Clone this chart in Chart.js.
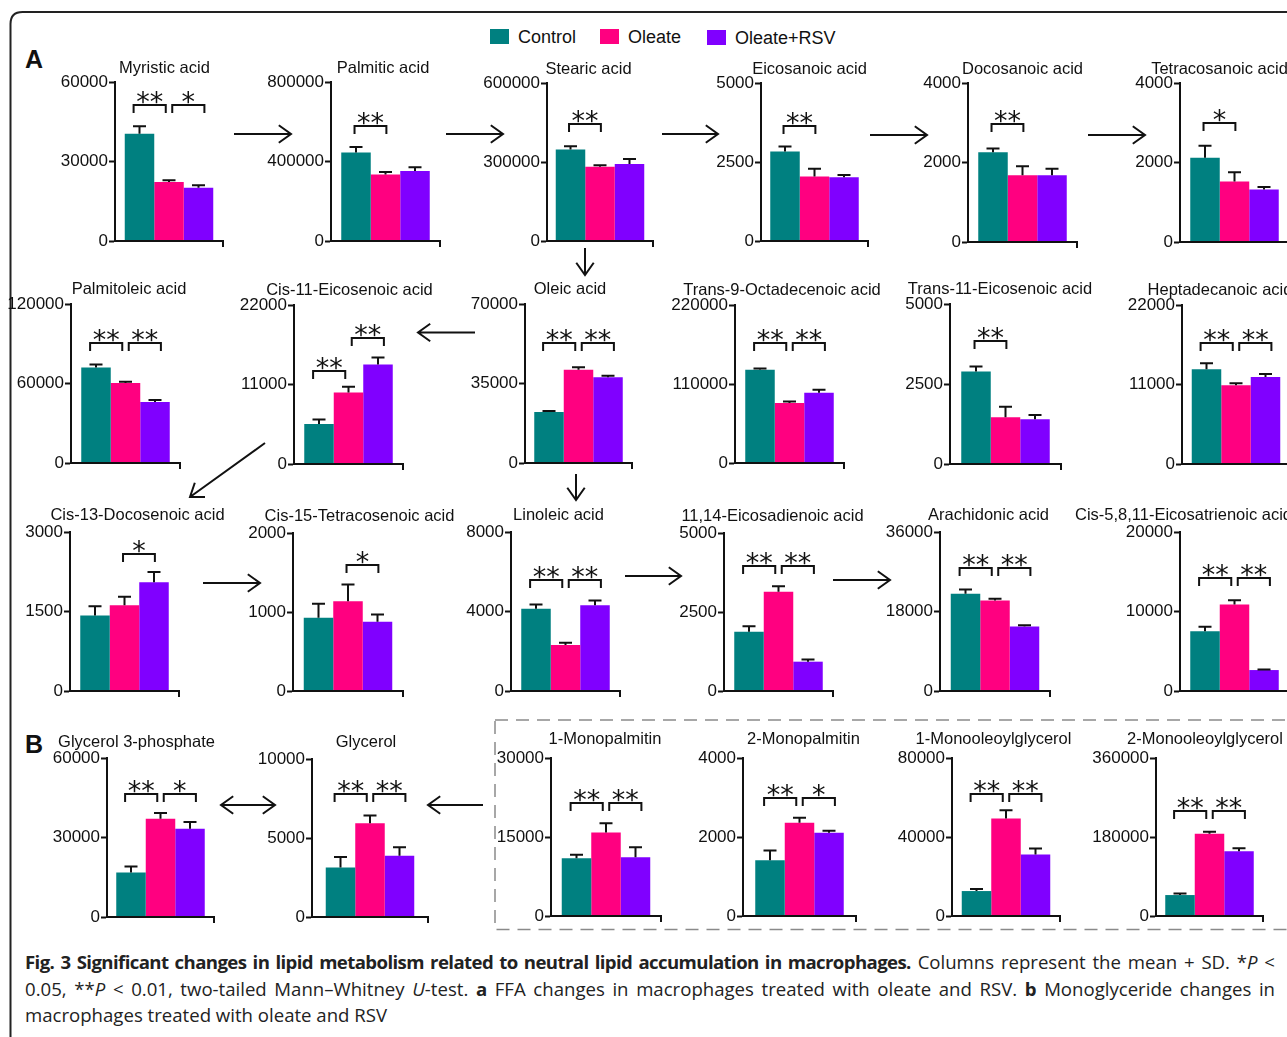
<!DOCTYPE html>
<html>
<head>
<meta charset="utf-8">
<script src="https://cdn.jsdelivr.net/npm/chart.js@4.4.1/dist/chart.umd.min.js"></script>
<style>
  html, body { margin: 0; padding: 0; background: #fff; }
  body { width: 1287px; height: 1037px; overflow: hidden; position: relative;
         font-family: "Liberation Sans", Arial, sans-serif; color: #111; }
  #deco { position: absolute; left: 0; top: 0; }
  .panel { position: absolute; }
  .letter { position: absolute; font-weight: bold; font-size: 25px; line-height: 25px; }
  .key { position: absolute; font-size: 18px; line-height: 22px; white-space: nowrap; }
  .swatch { position: absolute; width: 19px; height: 15px; }
  .caption { position: absolute; left: 25px; top: 949px; width: 1250px;
             font-family: "Open Sans", sans-serif; font-size: 18.6px; line-height: 26.5px; color: #222; }
  .caption div { white-space: nowrap; text-align: justify; text-align-last: justify; }
  .caption div.last { text-align: left; text-align-last: left; }
  .caption b { font-weight: 700; }
  .caption b.lead { letter-spacing: -0.6px; }
</style>
</head>
<body>
<svg id="deco" width="1287" height="1037"></svg>

<div class="letter" style="left:25px;top:47px;">A</div>
<div class="letter" style="left:25px;top:732px;">B</div>

<div class="swatch" style="left:490px;top:29px;background:#008080;"></div>
<div class="key" style="left:518px;top:26px;">Control</div>
<div class="swatch" style="left:600px;top:29px;background:#ff0080;"></div>
<div class="key" style="left:628px;top:26px;">Oleate</div>
<div class="swatch" style="left:707px;top:30px;background:#8000ff;"></div>
<div class="key" style="left:735px;top:27px;">Oleate+RSV</div>

<div class="caption">
  <div><b class="lead">Fig. 3 Significant changes in lipid metabolism related to neutral lipid accumulation in macrophages.</b> Columns represent the mean + SD. *<i>P</i> &lt;</div>
  <div>0.05, **<i>P</i> &lt; 0.01, two-tailed Mann–Whitney <i>U</i>-test. <b>a</b> FFA changes in macrophages treated with oleate and RSV. <b>b</b> Monoglyceride changes in</div>
  <div class="last">macrophages treated with oleate and RSV</div>
</div>

<script>
// ---- data ----
const groups = ['Control', 'Oleate', 'Oleate+RSV'];

const panelTitles = [
  'Myristic acid', 'Palmitic acid', 'Stearic acid', 'Eicosanoic acid', 'Docosanoic acid', 'Tetracosanoic acid',
  'Palmitoleic acid', 'Cis-11-Eicosenoic acid', 'Oleic acid', 'Trans-9-Octadecenoic acid', 'Trans-11-Eicosenoic acid', 'Heptadecanoic acid',
  'Cis-13-Docosenoic acid', 'Cis-15-Tetracosenoic acid', 'Linoleic acid', '11,14-Eicosadienoic acid', 'Arachidonic acid', 'Cis-5,8,11-Eicosatrienoic acid',
  'Glycerol 3-phosphate', 'Glycerol', '1-Monopalmitin', '2-Monopalmitin', '1-Monooleoylglycerol', '2-Monooleoylglycerol'
];

const axisMax = [
  60000, 800000, 600000, 5000, 4000, 4000,
  120000, 22000, 70000, 220000, 5000, 22000,
  3000, 2000, 8000, 5000, 36000, 20000,
  60000, 10000, 30000, 4000, 80000, 360000
];

const controlMean = [
  40500, 445000, 347000, 2830, 2260, 2120,
  72100, 5550, 22450, 129700, 2890, 13100,
  1425, 927, 4135, 1875, 22000, 7530,
  16830, 3133, 10980, 1414, 12630, 47730
];
const controlSD = [
  2800, 28000, 13000, 160, 95, 300,
  2300, 600, 450, 1800, 160, 830,
  175, 177, 215, 177, 970, 550,
  2270, 657, 630, 245, 1010, 3800
];
const oleateMean = [
  22300, 335000, 282000, 2040, 1680, 1520,
  60400, 9890, 41100, 83400, 1460, 10900,
  1620, 1137, 2310, 3138, 20480, 10880,
  37090, 5938, 15850, 2358, 49370, 187270
];
const oleateSD = [
  600, 12000, 6000, 245, 225, 235,
  1000, 790, 1000, 2200, 330, 280,
  157, 210, 120, 176, 390, 540,
  2160, 480, 1780, 127, 4200, 4530
];
const rsvMean = [
  20100, 352000, 292000, 2020, 1680, 1320,
  46000, 13780, 37700, 97700, 1400, 12040,
  2050, 876, 4316, 928, 14610, 2635,
  33320, 3872, 11170, 2106, 31180, 147700
];
const rsvSD = [
  900, 19000, 19000, 65, 160, 65,
  1500, 970, 750, 4200, 135, 410,
  196, 92, 235, 72, 300, 85,
  2530, 550, 1900, 50, 3030, 6800
];

// significance brackets: [pair (0: Control vs Oleate, 1: Oleate vs Oleate+RSV), bracket level, mark]
const significance = [
  [[0, 51200, '**'], [1, 51200, '*']],
  [[0, 577000, '**']],
  [[0, 443000, '**']],
  [[0, 3650, '**']],
  [[0, 2960, '**']],
  [[0, 3000, '*']],
  [[0, 90600, '**'], [1, 90600, '**']],
  [[0, 12850, '**'], [1, 17480, '**']],
  [[0, 52800, '**'], [1, 52800, '**']],
  [[0, 167600, '**'], [1, 167600, '**']],
  [[0, 3830, '**']],
  [[0, 16700, '**'], [1, 16700, '**']],
  [[1, 2590, '*']],
  [[1, 1590, '*']],
  [[0, 5570, '**'], [1, 5570, '**']],
  [[0, 3950, '**'], [1, 3950, '**']],
  [[0, 27870, '**'], [1, 27870, '**']],
  [[0, 14230, '**'], [1, 14230, '**']],
  [[0, 46500, '**'], [1, 46500, '*']],
  [[0, 7770, '**'], [1, 7770, '**']],
  [[0, 21440, '**'], [1, 21440, '**']],
  [[0, 2990, '**'], [1, 2990, '*']],
  [[0, 62000, '**'], [1, 62000, '**']],
  [[0, 238600, '**'], [1, 238600, '**']]
];

// ---- page layout ----
// plot boxes: [axis x, top y, zero y, axis length, title gap, title shift]
const plotBoxes = [
  [115, 82, 241, 108, 9, -4.5], [331, 82, 241, 109, 9, -2.5], [547, 83, 241, 106, 9, -11.5],
  [761, 83, 241, 107, 9, -5], [968, 83, 242, 109, 9, 0], [1180, 83, 242, 109, 9, -15],
  [71, 304, 463, 109, 10.5, 3.5], [294, 305, 464, 109, 10.5, 1], [525, 304, 463, 107, 10.5, -8.5],
  [735, 305, 463, 109, 10.5, -7.5], [950, 304, 464, 111, 10.5, -5.5], [1182, 305, 464, 108, 10.5, -16],
  [70, 532, 691, 109, 12, 13], [293, 533, 691, 110, 12, 11.5], [511, 532, 691, 109, 12, -7],
  [724, 533, 691, 109, 12, -6], [940, 532, 691, 110, 12, -6.5], [1180, 532, 691, 109, 12, -51],
  [107, 758, 917, 107, 11.5, -24], [312, 759, 917, 116, 12.5, -4], [551, 758, 916, 110, 14, -1],
  [743, 758, 916, 113, 14, 4], [952, 758, 916, 108, 14.5, -12.5], [1156, 758, 916, 107, 14, -4.5]
];

const barColors = ['#008080', '#ff0080', '#8000ff'];
const ink = '#111';
const fontFamily = '"Liberation Sans", Arial, sans-serif';
const means = [controlMean, oleateMean, rsvMean];
const sds = [controlSD, oleateSD, rsvSD];

// axis line, error bars, significance brackets and panel titles
const panelMarks = {
  id: 'panelMarks',
  afterDatasetsDraw(chart, args, opts) {
    const p = opts.panel;
    const ctx = chart.ctx;
    const y = chart.scales.y;
    const area = chart.chartArea;
    ctx.save();
    ctx.strokeStyle = ink;
    ctx.fillStyle = ink;
    ctx.lineWidth = 2;

    ctx.beginPath();
    ctx.moveTo(area.left - 1, area.bottom);
    ctx.lineTo(area.right, area.bottom);
    ctx.moveTo(area.right, area.bottom - 1);
    ctx.lineTo(area.right, area.bottom + 6);
    ctx.stroke();

    const centers = [];
    let bw = 0;
    chart.data.datasets.forEach((ds, k) => {
      const bar = chart.getDatasetMeta(k).data[0];
      centers.push(bar.x);
      bw = bar.width;
      const top = y.getPixelForValue(ds.data[0] + ds.sd[0]);
      ctx.beginPath();
      ctx.moveTo(bar.x, bar.y);
      ctx.lineTo(bar.x, top);
      ctx.moveTo(bar.x - 6.5, top);
      ctx.lineTo(bar.x + 6.5, top);
      ctx.stroke();
    });

    const marks = significance[p];
    const both = marks.length === 2;
    const starSize = 27;
    marks.forEach(([pair, level, text]) => {
      const a = centers[pair], b = centers[pair + 1];
      let x0, x1;
      if (both) {
        if (pair === 0) { x0 = a - 0.2 * bw; x1 = b - 0.11 * bw; }
        else { x0 = a + 0.11 * bw; x1 = b + 0.2 * bw; }
      } else { x0 = a - 0.05 * bw; x1 = b + 0.03 * bw; }
      const yb = Math.round(y.getPixelForValue(level));
      ctx.beginPath();
      ctx.moveTo(x0, yb + 8);
      ctx.lineTo(x0, yb);
      ctx.lineTo(x1, yb);
      ctx.lineTo(x1, yb + 8);
      ctx.stroke();
      ctx.font = starSize + 'px "DejaVu Sans", sans-serif';
      ctx.textAlign = 'center';
      ctx.textBaseline = 'alphabetic';
      const cx = (x0 + x1) / 2;
      for (let k = 0; k < text.length; k++) {
        ctx.fillText('*', cx + (k - (text.length - 1) / 2) * 13.5, yb - 5 + 0.4 * starSize);
      }
    });

    ctx.font = '16.5px ' + fontFamily;
    ctx.textAlign = 'center';
    ctx.textBaseline = 'alphabetic';
    ctx.fillText(panelTitles[p], (area.left + area.right) / 2 + opts.shift, area.top - opts.gap);
    ctx.restore();
  }
};

// canvas margins round each plot: spare room on the left for wide titles, axis label band, right and bottom room
const padX = 70, axisBand = 80, padT = 45, padR = 125, padB = 14;

panelTitles.forEach((title, i) => {
  const [ax, ty, zy, w, gap, shift] = plotBoxes[i];
  const holder = document.createElement('div');
  holder.className = 'panel';
  holder.style.left = (ax - axisBand - padX) + 'px';
  holder.style.top = (ty - padT) + 'px';
  const canvas = document.createElement('canvas');
  const cw = padX + axisBand + w + padR, chh = padT + (zy - ty) + padB;
  canvas.width = cw; canvas.height = chh;
  canvas.style.width = cw + 'px'; canvas.style.height = chh + 'px';
  holder.appendChild(canvas);
  document.body.appendChild(holder);

  const M = axisMax[i];
  new Chart(canvas, {
    type: 'bar',
    data: {
      labels: [''],
      datasets: groups.map((g, k) => ({
        label: g,
        data: [means[k][i]],
        sd: [sds[k][i]],
        backgroundColor: barColors[k],
        borderWidth: 0,
        barPercentage: 1,
        categoryPercentage: 88.5 / w
      }))
    },
    options: {
      responsive: false,
      animation: false,
      devicePixelRatio: 1,
      layout: { padding: { left: padX, top: padT, right: padR, bottom: padB } },
      plugins: {
        legend: { display: false },
        tooltip: { enabled: false },
        title: { display: false },
        panelMarks: { panel: i, gap: gap, shift: shift }
      },
      scales: {
        x: { display: false },
        y: {
          min: 0, max: M,
          afterFit(scale) { scale.width = axisBand; },
          border: { display: true, color: ink, width: 2 },
          grid: {
            display: true, drawOnChartArea: false, drawTicks: true,
            tickLength: 6, tickWidth: 2,
            tickColor: c => (c.index % 2 === 0 ? ink : 'rgba(0,0,0,0)')
          },
          ticks: {
            stepSize: M / 4, autoSkip: false, padding: 1, color: ink,
            font: { family: fontFamily, size: 17 },
            callback: (v, idx) => (idx % 2 === 0 ? String(v) : '')
          }
        }
      }
    },
    plugins: [panelMarks]
  });
});

// ---- frame, dashed group box and pathway arrows ----
const svgNS = 'http://www.w3.org/2000/svg';
const svg = document.getElementById('deco');
function add(tag, attrs) {
  const el = document.createElementNS(svgNS, tag);
  for (const k in attrs) el.setAttribute(k, attrs[k]);
  svg.appendChild(el);
  return el;
}
add('path', { d: 'M10.5 1045 V24 Q10.5 12 22.5 12 H1300', fill: 'none', stroke: '#222', 'stroke-width': 2 });
add('rect', { x: 495, y: 720, width: 900, height: 209.5, fill: 'none', stroke: '#8a8a8a', 'stroke-width': 1.5, 'stroke-dasharray': '13 8' });

const arrows = [
  [234, 134, 291, 134, false], [446, 134, 503, 134, false], [662, 134, 718, 134, false],
  [870, 135, 927, 135, false], [1088, 135, 1145, 135, false],
  [585, 248, 585, 275, false], [576, 474, 576, 500, false],
  [475, 332.5, 418, 332.5, false], [265, 443, 190, 497, false],
  [203, 583, 260, 583, false], [625, 576, 681, 576, false], [833, 580, 890, 580, false],
  [221, 805, 275, 805, true], [483, 805, 428, 805, false]
];
function head(x, y, ang) {
  const L = 15, s = 0.62;
  const p1 = [x - L * Math.cos(ang - s), y - L * Math.sin(ang - s)];
  const p2 = [x - L * Math.cos(ang + s), y - L * Math.sin(ang + s)];
  return `M${p1[0]} ${p1[1]} L${x} ${y} L${p2[0]} ${p2[1]}`;
}
arrows.forEach(([x0, y0, x1, y1, dbl]) => {
  const ang = Math.atan2(y1 - y0, x1 - x0);
  let d = `M${x0} ${y0} L${x1} ${y1} ` + head(x1, y1, ang);
  if (dbl) d += ' ' + head(x0, y0, ang + Math.PI);
  add('path', { d, fill: 'none', stroke: '#111', 'stroke-width': 2 });
});
</script>
</body>
</html>
